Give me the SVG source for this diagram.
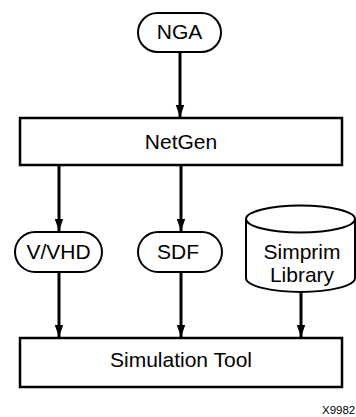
<svg xmlns="http://www.w3.org/2000/svg" width="356" height="417" viewBox="0 0 356 417">
  <style>
    .box { fill: #fff; stroke: #000; stroke-width: 2.5; }
    .pill { fill: #fff; stroke: #000; stroke-width: 2; }
    .cyl { fill: #fff; stroke: #000; stroke-width: 2; }
    .lbl { font-family: "Liberation Sans", Arial, sans-serif; font-size: 21px; fill: #000; text-anchor: middle; }
    .edge { stroke: #000; stroke-width: 3; fill: none; marker-end: url(#ah); }
    .fig { font-family: "Liberation Sans", Arial, sans-serif; font-size: 11.5px; fill: #000; }
  </style>
  <defs>
    <marker id="ah" markerUnits="userSpaceOnUse" markerWidth="12" markerHeight="17" refX="17" refY="6" orient="auto" viewBox="0 0 17 12">
      <path d="M0,0 L17,6 L0,12 Z" fill="#000"/>
    </marker>
  </defs>
  <rect width="356" height="417" fill="#fff"/>
  <g id="connectors">
    <line class="edge" x1="180" y1="52" x2="180" y2="117"/>
    <line class="edge" x1="59" y1="165" x2="59" y2="231"/>
    <line class="edge" x1="181" y1="165" x2="181" y2="231"/>
    <line class="edge" x1="59" y1="272" x2="59" y2="337"/>
    <line class="edge" x1="181" y1="272" x2="181" y2="337"/>
    <line class="edge" x1="301" y1="292" x2="301" y2="337"/>
  </g>
  <g id="nga">
    <rect class="pill" x="138" y="13" width="83" height="39" rx="19.5"/>
    <text class="lbl" x="179.5" y="39">NGA</text>
  </g>
  <g id="netgen">
    <rect class="box" x="20" y="118" width="322" height="47"/>
    <text class="lbl" x="181" y="149">NetGen</text>
  </g>
  <g id="vvhd">
    <rect class="pill" x="15" y="232" width="87" height="40" rx="20"/>
    <text class="lbl" x="58.5" y="258.5">V/VHD</text>
  </g>
  <g id="sdf">
    <rect class="pill" x="138" y="232" width="84" height="40" rx="20"/>
    <text class="lbl" x="178" y="258.5">SDF</text>
  </g>
  <g id="simprim">
    <path class="cyl" d="M246,219 L246,278 A54.5,14 0 0 0 355,278 L355,219"/>
    <ellipse class="cyl" cx="300.5" cy="219" rx="54.5" ry="13.5"/>
    <text class="lbl" x="302" y="259">Simprim</text>
    <text class="lbl" x="302" y="282">Library</text>
  </g>
  <g id="simtool">
    <rect class="box" x="20" y="338" width="322" height="49"/>
    <text class="lbl" x="181" y="367">Simulation Tool</text>
  </g>
  <text class="fig" x="322" y="414">X9982</text>
</svg>
